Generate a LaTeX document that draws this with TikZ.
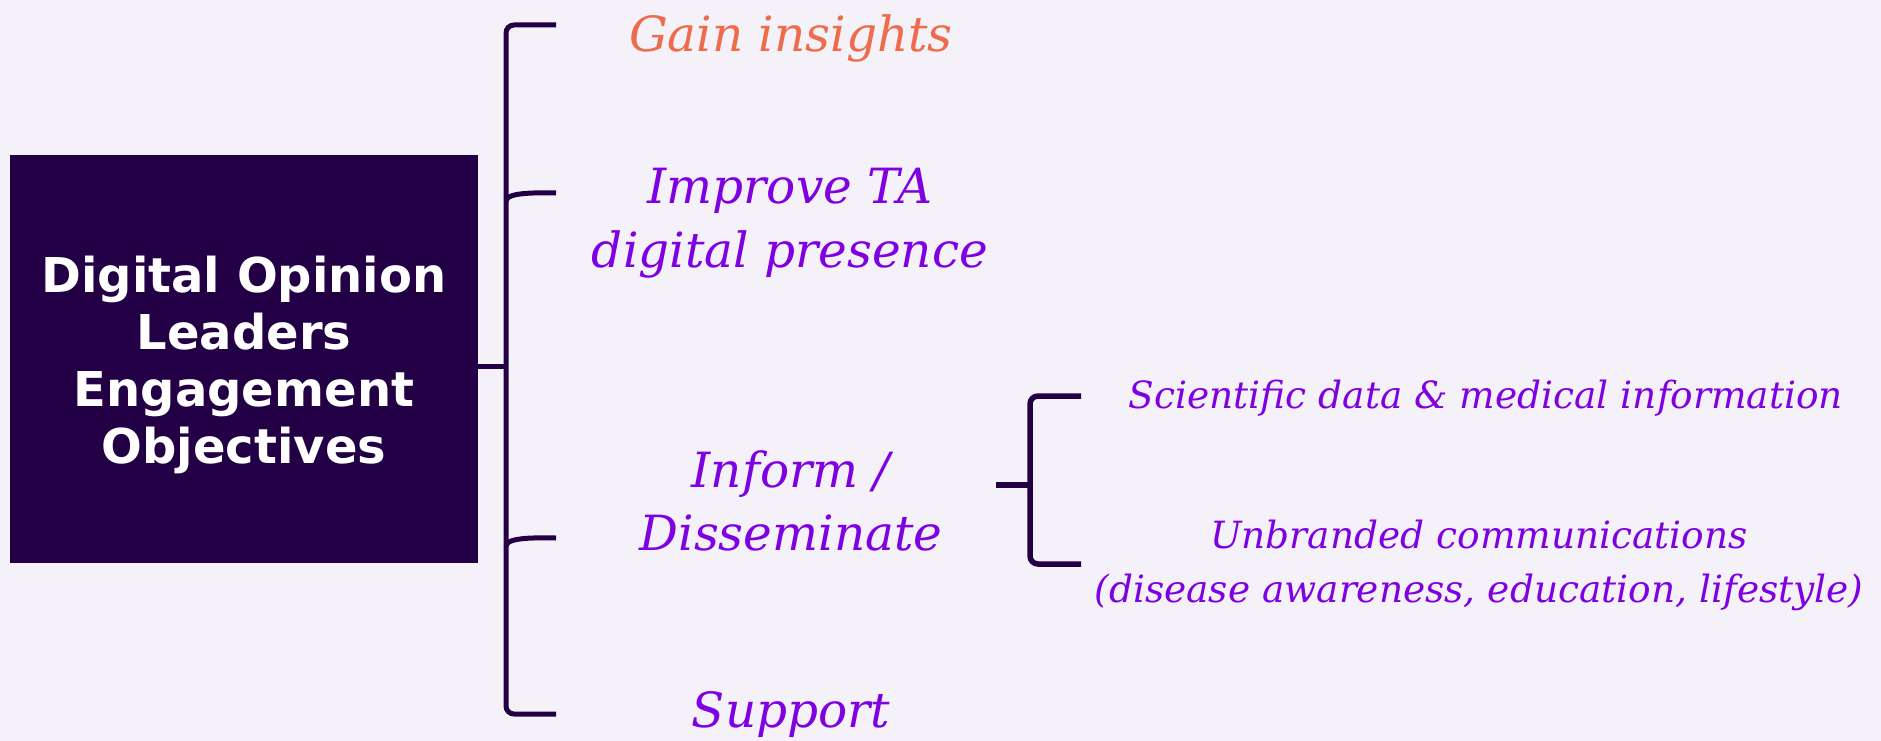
\documentclass[tikz,border=0pt]{standalone}
\usepackage{fontspec}
\setmainfont{DejaVu Serif}
\newfontfamily\boxfont{DejaVu Sans}
\definecolor{bgcol}{HTML}{F4F2F8}
\definecolor{dolpurple}{HTML}{230046}
\definecolor{goalpurple}{HTML}{7F00E0}
\definecolor{gaincol}{HTML}{EE6B4C}
\tikzset{
    objbox/.style={fill=dolpurple, minimum width=468pt, minimum height=408pt, inner sep=0pt},
    objtext/.style={text=white, align=center, inner sep=0pt,
        font=\boxfont\bfseries\fontsize{48}{57}\selectfont},
    goal/.style={text=goalpurple, align=center, inner sep=0pt,
        font=\itshape\fontsize{48.5}{63.5}\selectfont},
    subgoal/.style={goal, font=\itshape\fontsize{37.5}{54}\selectfont},
    brk/.style={draw=dolpurple, line width=5pt, rounded corners=8pt}
}
\begin{document}
\begin{tikzpicture}[x=1pt, y=-1pt]
\fill[bgcol] (0,0) rectangle (1881,741);
\node[objbox] (dol) at (244,359) {};
\node[objtext] (doltext) at ([yshift=-6pt]dol.center) {Digital Opinion\\Leaders\\Engagement\\Objectives};
\node[goal, text=gaincol] (gain) at (791,38) {Gain insights};
\node[goal] (improve) at (790,223) {Improve TA\\digital presence};
\node[goal] (inform) at (791,501) {Inform /\\Disseminate};
\node[goal] (support) at (791,715) {Support};
\node[subgoal] (sci) at (1486,398) {Scientific data \& medical information};
\node[subgoal] (unbr) at (1479,565) {Unbranded communications\\(disease awareness, education, lifestyle)};
% main bracket
\coordinate (M0) at (506,366);
\coordinate (Mtop) at (506,25);
\coordinate (Mbot) at (506,714);
\coordinate (M1) at (556,25);
\coordinate (M4) at (556,714);
\draw[brk] (M1) -- (Mtop) -- (Mbot) -- (M4);
\draw[brk] (dol.east |- M0) -- (M0);
\foreach\y [count=\i from 2] in {193, 538}{
    \coordinate (M\i) at (556,\y);
    \draw[brk] ([yshift=-8pt]Mtop |- M\i) to[out=90, in=180, looseness=0.5] (M\i);
}
% sub bracket
\coordinate (S0) at (996,485);
\coordinate (Stop) at (1030,396);
\coordinate (Sbot) at (1030,564);
\coordinate (S1) at (1081,396);
\coordinate (S2) at (1081,564);
\draw[brk, line width=5.5pt] (S1) -- (Stop) -- (Sbot) -- (S2);
\draw[brk, line width=5.5pt] (S0) -- (Stop |- S0);
\end{tikzpicture}
\end{document}
